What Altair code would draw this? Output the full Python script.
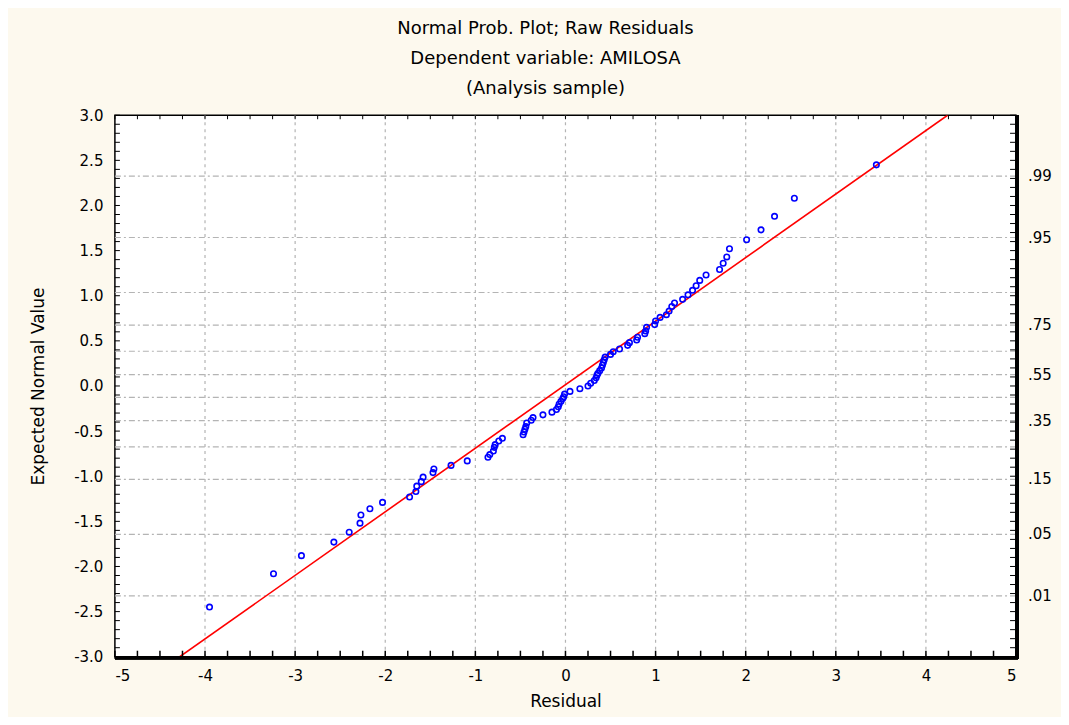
import altair as alt
import pandas as pd

# ---- data ----
residual = [
    -3.95, -3.24, -2.93, -2.57, -2.40, -2.28, -2.27, -2.17, -2.03, -1.73,
    -1.66, -1.65, -1.60, -1.58, -1.47, -1.46, -1.27, -1.09, -0.86, -0.84,
    -0.80, -0.79, -0.78, -0.74, -0.70, -0.47, -0.46, -0.45, -0.44, -0.43,
    -0.38, -0.36, -0.25, -0.15, -0.10, -0.08, -0.07, -0.05, -0.03, -0.02,
    -0.01, 0.05, 0.16, 0.25, 0.28, 0.32, 0.34, 0.35, 0.36, 0.38,
    0.40, 0.41, 0.42, 0.43, 0.44, 0.50, 0.53, 0.60, 0.69, 0.71,
    0.79, 0.80, 0.88, 0.89, 0.90, 0.99, 1.00, 1.05, 1.12, 1.15,
    1.18, 1.21, 1.30, 1.36, 1.41, 1.45, 1.49, 1.56, 1.71, 1.75,
    1.79, 1.82, 2.01, 2.17, 2.32, 2.54, 3.45,
]
expected = [
    -2.45, -2.08, -1.88, -1.73, -1.62, -1.52, -1.43, -1.36, -1.29, -1.23,
    -1.17, -1.11, -1.06, -1.01, -0.96, -0.92, -0.88, -0.83, -0.79, -0.76,
    -0.72, -0.68, -0.65, -0.61, -0.58, -0.54, -0.51, -0.48, -0.45, -0.41,
    -0.38, -0.35, -0.32, -0.29, -0.26, -0.23, -0.20, -0.17, -0.14, -0.12,
    -0.09, -0.06, -0.03, 0.00, 0.03, 0.06, 0.09, 0.12, 0.14, 0.17,
    0.20, 0.23, 0.26, 0.29, 0.32, 0.35, 0.38, 0.41, 0.45, 0.48,
    0.51, 0.54, 0.58, 0.61, 0.65, 0.68, 0.72, 0.76, 0.79, 0.83,
    0.88, 0.92, 0.96, 1.01, 1.06, 1.11, 1.17, 1.23, 1.29, 1.36,
    1.43, 1.52, 1.62, 1.73, 1.88, 2.08, 2.45,
]
line_x = [-4.28, 4.24]
line_y = [-3.0, 3.0]

x_ticks = [-5, -4, -3, -2, -1, 0, 1, 2, 3, 4, 5]
y_ticks = [-3.0, -2.5, -2.0, -1.5, -1.0, -0.5, 0.0, 0.5, 1.0, 1.5, 2.0, 2.5, 3.0]
prob_labels = [".01", ".05", ".15", ".35", ".55", ".75", ".95", ".99"]
prob_values = [-2.326, -1.645, -1.036, -0.385, 0.126, 0.674, 1.645, 2.326]
grid_y = [-2.326, -1.645, -1.036, -0.674, -0.385, -0.126,
          0.126, 0.385, 0.674, 1.036, 1.645, 2.326]
minor_y = [round(-3 + 0.1 * i, 2) for i in range(61)]
minor_x = [round(-5 + 0.25 * i, 2) for i in range(41)]

W, H = 902, 542
FONT = "DejaVu Sans"
GRID = "#b4b4b4"

xs = alt.Scale(domain=[-5, 5], nice=False, zero=False)
ys = alt.Scale(domain=[-3, 3], nice=False, zero=False)

pts = pd.DataFrame({"Residual": residual, "Expected": expected})
line_df = pd.DataFrame({"Residual": line_x, "Expected": line_y})
vgrid_df = pd.DataFrame({"x": x_ticks[1:-1]})
hgrid_df = pd.DataFrame({"y": grid_y})
prob_df = pd.DataFrame({"y": prob_values, "label": prob_labels})
my_df = pd.DataFrame({"y": minor_y})
mx_df = pd.DataFrame({"x": minor_x})

x_axis = alt.Axis(values=x_ticks, title="Residual", grid=False,
                  labelExpr="replace(format(datum.value, 'd'), '\u2212', '-')",
                  ticks=False, domain=False, labelFont=FONT, labelFontSize=15,
                  labelPadding=12, titleFont=FONT, titleFontSize=17,
                  titleFontWeight="normal", titlePadding=10,
                  labelColor="black", titleColor="black")
y_axis = alt.Axis(values=y_ticks, title="Expected Normal Value",
                  labelExpr="replace(format(datum.value, '.1f'), '\u2212', '-')",
                  grid=False, ticks=False, domain=False, labelFont=FONT,
                  labelFontSize=15, labelPadding=12, titleFont=FONT,
                  titleFontSize=17, titleFontWeight="normal", titlePadding=26,
                  labelColor="black", titleColor="black")

vgrid = alt.Chart(vgrid_df).mark_rule(color=GRID, strokeDash=[3, 4], strokeWidth=1.2).encode(
    x=alt.X("x:Q", scale=xs, axis=x_axis))
hgrid = alt.Chart(hgrid_df).mark_rule(color=GRID, strokeDash=[6, 3, 2, 3], strokeWidth=1.2).encode(
    y=alt.Y("y:Q", scale=ys, axis=y_axis))

line = alt.Chart(line_df).mark_line(color="#ff0000", strokeWidth=1.6, clip=True).encode(
    x=alt.X("Residual:Q", scale=xs), y=alt.Y("Expected:Q", scale=ys))
points = alt.Chart(pts).mark_point(shape="circle", filled=False, color="#0000ff",
                                   size=30, strokeWidth=1.6, opacity=1).encode(
    x=alt.X("Residual:Q", scale=xs), y=alt.Y("Expected:Q", scale=ys))

right_labels = alt.Chart(prob_df).mark_text(align="left", baseline="middle", font=FONT,
                                            fontSize=15, color="black").encode(
    x=alt.value(W + 12), y=alt.Y("y:Q", scale=ys), text="label:N")

left_ticks = alt.Chart(my_df).mark_rule(color="black", strokeWidth=1).encode(
    y=alt.Y("y:Q", scale=ys), x=alt.value(0), x2=alt.value(5))
right_ticks = alt.Chart(my_df).mark_rule(color="black", strokeWidth=1).encode(
    y=alt.Y("y:Q", scale=ys), x=alt.value(W - 6), x2=alt.value(W))
bottom_ticks = alt.Chart(mx_df).mark_rule(color="black", strokeWidth=1.5).encode(
    x=alt.X("x:Q", scale=xs), y=alt.value(H - 6), y2=alt.value(H))
top_ticks = alt.Chart(mx_df).mark_rule(color="black", strokeWidth=1).encode(
    x=alt.X("x:Q", scale=xs), y=alt.value(0), y2=alt.value(4))

frame_r = alt.Chart(prob_df).mark_rule(color="black", strokeWidth=3).encode(
    x=alt.value(W + 1), y=alt.value(0), y2=alt.value(H + 2))
frame_b = alt.Chart(prob_df).mark_rule(color="black", strokeWidth=3).encode(
    y=alt.value(H + 1), x=alt.value(0), x2=alt.value(W + 2))

chart = alt.layer(
    vgrid, hgrid, line, points, right_labels,
    left_ticks, right_ticks, bottom_ticks, top_ticks, frame_r, frame_b,
).properties(
    width=W, height=H,
    title=alt.TitleParams(
        text=["Normal Prob. Plot; Raw Residuals", "Dependent variable: AMILOSA",
              "(Analysis sample)"],
        font=FONT, fontSize=18, fontWeight="normal", color="black",
        anchor="middle", lineHeight=30, offset=10, dx=-20),
    autosize=alt.AutoSizeParams(type="none"),
    padding={"left": 107, "top": 107, "right": 45, "bottom": 60},
    background="#fdf9ee",
).configure_view(
    stroke="black", strokeWidth=1.5, fill="white"
)

chart.save("out.html", embed_options={"renderer": "svg", "actions": False})
